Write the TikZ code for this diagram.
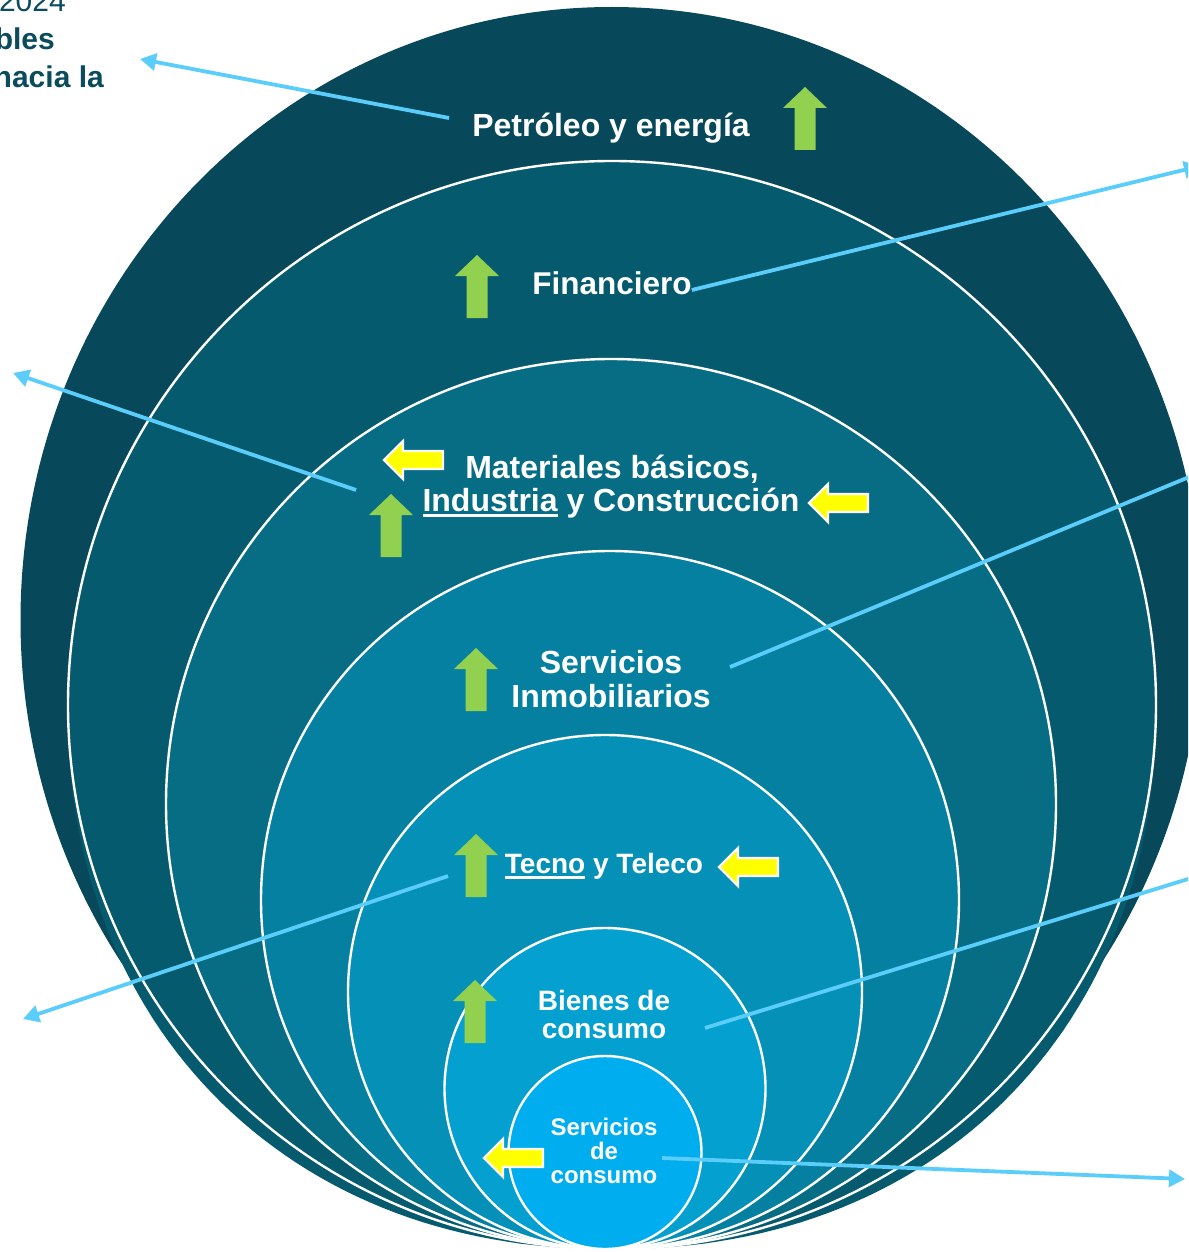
\documentclass[tikz,border=0pt]{standalone}
\usepackage{fontspec}
\setmainfont{Liberation Sans}
\usetikzlibrary{arrows.meta}
\definecolor{cA}{RGB}{7,73,90}
\definecolor{cB}{RGB}{6,90,110}
\definecolor{cC}{RGB}{6,109,133}
\definecolor{cD}{RGB}{5,128,160}
\definecolor{cE}{RGB}{5,144,184}
\definecolor{cF}{RGB}{4,160,208}
\definecolor{cG}{RGB}{0,174,239}
\definecolor{lnk}{RGB}{90,205,250}
\definecolor{grn}{RGB}{146,208,80}
\definecolor{ylw}{RGB}{255,255,0}
\definecolor{txt}{RGB}{10,75,92}
\newcommand\myul[1]{\setbox0\hbox{#1}\rlap{\rule[-5.5pt]{\wd0}{2.4pt}}\box0\relax}
\begin{document}
\begin{tikzpicture}[x=1pt,y=-1pt,
  lbl/.style={text=white, inner sep=0pt, anchor=base},
  fA/.style={font=\fontsize{32}{38}\selectfont\bfseries},
  fB/.style={font=\fontsize{28}{33}\selectfont\bfseries},
  fC/.style={font=\fontsize{24}{28}\selectfont\bfseries},
  side/.style={text=txt, inner sep=0pt, anchor=base east, font=\fontsize{30}{36}\selectfont},
  ring/.style={draw=white, line width=2.4pt},
  link/.style={draw=lnk, line width=3.8pt, -{Triangle[length=16pt,width=17pt]}},
  uparrow/.style={fill=grn},
  leftarrow/.style={fill=ylw, draw=white, line width=2.2pt, line join=miter}
]
\useasboundingbox (0,0) rectangle (1188,1252);
\clip (0,0) rectangle (1188,1252);
\fill[white] (0,0) rectangle (1188,1252);

% outer shape
\fill[cA] (611.5,620) ellipse [x radius=591pt, y radius=613pt];
% lower bulge of second layer
\fill[cB] plot[domain=0.5:179.5, samples=120]
  ({612 + 544*sign(cos(\x))*pow(abs(cos(\x)),2/2.15)}, {705 + 544*pow(sin(\x),2/2.15)}) -- cycle;
% nested circles
\filldraw[ring, fill=cB] (612,705) circle [radius=544pt];
\filldraw[ring, fill=cC] (611,804) circle [radius=445pt];
\filldraw[ring, fill=cD] (610,900) circle [radius=349pt];
\filldraw[ring, fill=cE] (605,992) circle [radius=257pt];
\filldraw[ring, fill=cF] (605,1088.5) circle [radius=160.5pt];
\filldraw[ring, fill=cG] (605,1152.5) circle [radius=96.5pt];

% labels
\node[lbl, fA] (pet) at (611,137) {Petróleo y energía};
\node[lbl, fA, font=\fontsize{31.5}{38}\selectfont\bfseries] (fin) at (612,294) {Financiero};
\node[lbl, fA] (mat1) at (612,478) {Materiales básicos,};
\node[lbl, fA] (mat2) at (611,511) {\myul{Industria} y Construcción};
\node[lbl, fA] (si1) at (611,673) {Servicios};
\node[lbl, fA] (si2) at (611,707) {Inmobiliarios};
\node[lbl, fB] (tec) at (604,873) {\myul{Tecno} y Teleco};
\node[lbl, fB] (bie1) at (604,1010) {Bienes de};
\node[lbl, fB] (bie2) at (604,1038) {consumo};
\node[lbl, fC] (sdc1) at (604,1135) {Servicios};
\node[lbl, fC] (sdc2) at (604,1159) {de};
\node[lbl, fC] (sdc3) at (604,1183) {consumo};

% side text (cropped at the left edge, as in the reference)
\node[side] (t1) at (66,12) {2024};
\node[side, font=\fontsize{30}{36}\selectfont\bfseries] (t2) at (55,50) {bles};
\node[side, font=\fontsize{30}{36}\selectfont\bfseries] (t3) at (104,88) {hacia la};

% green up arrows
\foreach \cx/\ty in {805/87, 477/255, 391/494, 476/648, 476/834, 475/980}{
  \fill[uparrow] (\cx,\ty) -- (\cx+22,\ty+21) -- (\cx+10.5,\ty+21) -- (\cx+10.5,\ty+63)
    -- (\cx-10.5,\ty+63) -- (\cx-10.5,\ty+21) -- (\cx-22,\ty+21) -- cycle;
}
% yellow left arrows
\foreach \tx/\ty in {384/460, 809/503, 719/867, 484/1158}{
  \filldraw[leftarrow] (\tx,\ty) -- (\tx+19,\ty-19) -- (\tx+19,\ty-9) -- (\tx+59,\ty-9)
    -- (\tx+59,\ty+9) -- (\tx+19,\ty+9) -- (\tx+19,\ty+19) -- cycle;
}

% connectors
\coordinate (pS) at (449,118);  \coordinate (pE) at (140,59);
\coordinate (fE) at (1200,166);
\coordinate (mS) at (356,490);  \coordinate (mE) at (13,373);
\coordinate (sS) at (730,667);  \coordinate (sE) at (1235,458);
\coordinate (tS) at (448,876);  \coordinate (tE) at (23,1019);
\coordinate (bS) at (705,1028); \coordinate (bE) at (1240,863);
\coordinate (cS) at (662,1158); \coordinate (cE) at (1185,1179);
\draw[link] (pS) -- (pE);
\draw[link] ([yshift=4pt]fin.base east) -- (fE);
\draw[link] (mS) -- (mE);
\draw[link] (sS) -- (sE);
\draw[link] (tS) -- (tE);
\draw[link] (bS) -- (bE);
\draw[link] (cS) -- (cE);
\end{tikzpicture}
\end{document}
